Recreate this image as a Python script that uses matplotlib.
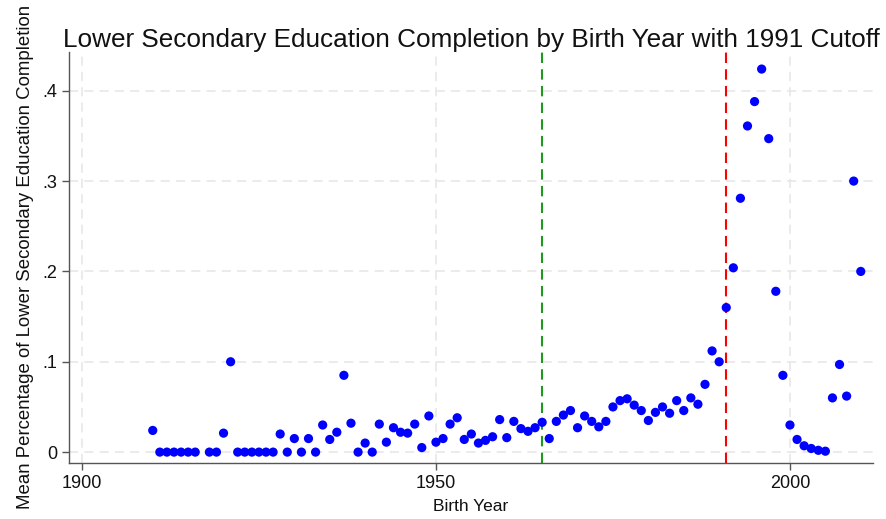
import matplotlib
matplotlib.use("Agg")
import matplotlib.pyplot as plt

plt.rcParams['font.family'] = ['Liberation Sans', 'DejaVu Sans']

birth_years = [
    1910, 1911, 1912, 1913, 1914, 1915, 1916, 1918, 1919,
    1920, 1921, 1922, 1923, 1924, 1925, 1926, 1927, 1928, 1929,
    1930, 1931, 1932, 1933, 1934, 1935, 1936, 1937, 1938, 1939,
    1940, 1941, 1942, 1943, 1944, 1945, 1946, 1947, 1948, 1949,
    1950, 1951, 1952, 1953, 1954, 1955, 1956, 1957, 1958, 1959,
    1960, 1961, 1962, 1963, 1964, 1965, 1966, 1967, 1968, 1969,
    1970, 1971, 1972, 1973, 1974, 1975, 1976, 1977, 1978, 1979,
    1980, 1981, 1982, 1983, 1984, 1985, 1986, 1987, 1988, 1989,
    1990, 1991, 1992, 1993, 1994, 1995, 1996, 1997, 1998, 1999,
    2000, 2001, 2002, 2003, 2004, 2005, 2006, 2007, 2008, 2009,
    2010,
]
completion = [
    0.024, 0.0, 0.0, 0.0, 0.0, 0.0, 0.0, 0.0, 0.0,
    0.021, 0.100, 0.0, 0.0, 0.0, 0.0, 0.0, 0.0, 0.020, 0.0,
    0.015, 0.0, 0.015, 0.0, 0.030, 0.014, 0.022, 0.085, 0.032, 0.0,
    0.010, 0.0, 0.031, 0.011, 0.027, 0.022, 0.021, 0.031, 0.005, 0.040,
    0.011, 0.015, 0.031, 0.038, 0.014, 0.020, 0.010, 0.013, 0.017, 0.036,
    0.016, 0.034, 0.026, 0.023, 0.027, 0.033, 0.015, 0.034, 0.041, 0.046,
    0.027, 0.040, 0.034, 0.028, 0.034, 0.050, 0.057, 0.059, 0.052, 0.046,
    0.035, 0.044, 0.050, 0.043, 0.057, 0.046, 0.060, 0.053, 0.075, 0.112,
    0.100, 0.160, 0.204, 0.281, 0.361, 0.388, 0.424, 0.347, 0.178, 0.085,
    0.030, 0.014, 0.007, 0.004, 0.002, 0.001, 0.060, 0.097, 0.062, 0.300,
    0.200,
]

reference_year = 1965
cutoff_year = 1991

x_ticks = [1900, 1950, 2000]
y_ticks = [0, 0.1, 0.2, 0.3, 0.4]
y_tick_labels = ["0", ".1", ".2", ".3", ".4"]

fig = plt.figure(figsize=(8.87, 5.19), dpi=100)
ax = fig.add_axes([0.078, 0.108, 0.906, 0.792])

ax.scatter(birth_years, completion, s=44, color="#0000ff", edgecolors="none", zorder=3)

ax.axvline(reference_year, color="#1e9a1e", linestyle=(0, (5, 3)), linewidth=1.5, zorder=2)
ax.axvline(cutoff_year, color="#ff0000", linestyle=(0, (5, 3)), linewidth=1.5, zorder=2)

ax.set_xlim(1898.2, 2011.7)
ax.set_ylim(-0.012, 0.443)
ax.set_xticks(x_ticks)
ax.set_yticks(y_ticks)
ax.set_yticklabels(y_tick_labels)

ax.grid(True, color="#e6e6e6", linestyle=(0, (6, 4)), linewidth=1.1, zorder=0)
ax.set_axisbelow(True)

for side in ("top", "right"):
    ax.spines[side].set_visible(False)
for side in ("left", "bottom"):
    ax.spines[side].set_color("#555555")
    ax.spines[side].set_linewidth(1.0)

ax.tick_params(axis="both", direction="out", length=5, width=1, color="#555555",
               labelsize=13, labelcolor="#111111")

ax.set_xlabel("Birth Year", fontsize=12.5, color="#111111", labelpad=5)
ax.set_ylabel("Mean Percentage of Lower Secondary Education Completion",
              fontsize=13.4, color="#111111", labelpad=6)
ax.set_title("Lower Secondary Education Completion by Birth Year with 1991 Cutoff",
             fontsize=18.8, color="#111111", pad=2)

fig.savefig("out.png", dpi=100, facecolor="white")
